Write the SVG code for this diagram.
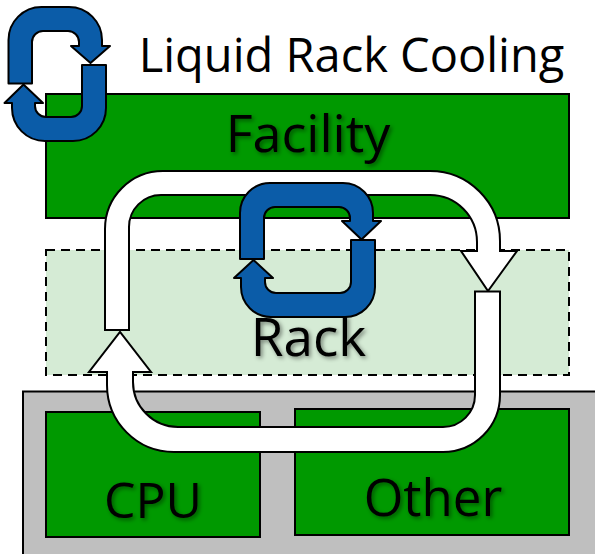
<svg xmlns="http://www.w3.org/2000/svg" width="595" height="554" viewBox="0 0 595 554">
<style>
.box{fill:#009900;stroke:#000;stroke-width:2}
.blue{fill:#0b5ca8;stroke:#000;stroke-width:2;stroke-linejoin:round}
.white{fill:#fff;stroke:#000;stroke-width:2;stroke-linejoin:miter}
text{font-family:"Open Sans","DejaVu Sans",sans-serif;fill:#000;text-anchor:middle}
.lab{filter:url(#sh)}
</style>
<defs><filter id="sh" x="-10%" y="-20%" width="120%" height="140%"><feDropShadow dx="2" dy="2" stdDeviation="2" flood-color="#000" flood-opacity="0.45"/></filter></defs>
<rect width="595" height="554" fill="#fff"/>
<g id="server"><rect x="23" y="391.500" width="580" height="175" fill="#bfbfbf" stroke="#000" stroke-width="2"/></g>
<g id="facility"><rect class="box" x="46" y="94" width="523" height="124"/><text class="lab" x="308" y="152" font-size="52">Facility</text></g>
<g id="rack"><rect x="46" y="250" width="523" height="125" fill="#d5ebd5" stroke="#000" stroke-width="2" stroke-dasharray="9 6"/><text class="lab" x="308.500" y="356" font-size="53">Rack</text></g>
<g id="cpu"><rect class="box" x="46" y="412" width="214" height="125"/><text class="lab" x="153" y="518" font-size="50">CPU</text></g>
<g id="other"><rect class="box" x="295" y="409" width="274" height="126"/><text class="lab" x="433" y="516" font-size="51">Other</text></g>
<g id="title"><text x="351.500" y="72" font-size="47">Liquid Rack Cooling</text></g>
<g id="connectors">
<path class="white" d="M105 330V229A58 58 0 0 1 163 171H430A70 70 0 0 1 500 241V251H517L488 291L461 251H477V242A47 47 0 0 0 430 195H161A32 32 0 0 0 129 227V330Z"/>
<path class="white" d="M475 291.500H500V395A57 57 0 0 1 443 452H174A67 67 0 0 1 107 385V372H89L120 332L151 372H133V382A45 45 0 0 0 178 427H443A32 32 0 0 0 475 395Z"/>
<path class="blue" d="M240 259V213A30 30 0 0 1 270 183H343A30 30 0 0 1 373 213V221H381L361.500 239.500L342 221H350V218A11 11 0 0 0 339 207H275A11 11 0 0 0 264 218V259Z"/>
<path class="blue" d="M351 240H375V287A30 30 0 0 1 345 317H271A30 30 0 0 1 241 287V278H234L253.500 260L273 278H265V282A11 11 0 0 0 276 293H340A11 11 0 0 0 351 282Z"/>
<path class="blue" d="M8.500 83.500V40A33 33 0 0 1 41.500 7H69A33 33 0 0 1 102 40V46H110L90.500 63L71 46H79V42A11 11 0 0 0 68 31H43A11 11 0 0 0 32 42V83.500Z"/>
<path class="blue" d="M82 65H106V108A33 33 0 0 1 73 141H45A33 33 0 0 1 12 108V103H4.500L23.500 84.500L43 103H35V106A11 11 0 0 0 46 117H71A11 11 0 0 0 82 106Z"/>
</g>
</svg>
